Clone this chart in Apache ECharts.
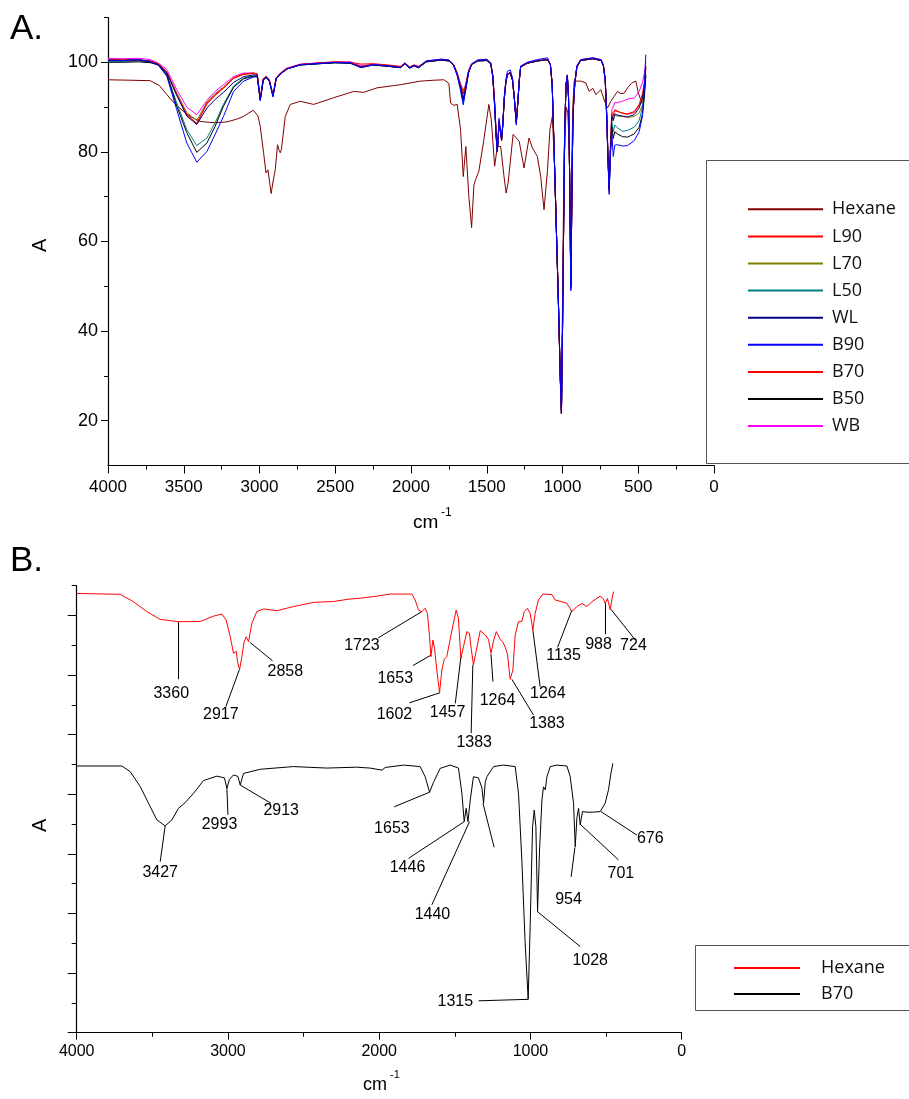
<!DOCTYPE html>
<html><head><meta charset="utf-8">
<script src="https://cdn.jsdelivr.net/npm/echarts@6/dist/echarts.min.js"></script>
<style>html,body{margin:0;padding:0;background:#fff}#c{width:909px;height:1099px}</style>
</head><body><div id="c"></div>
<script>
// ---------- Panel A data ----------
const xTicksA = [4000,3500,3000,2500,2000,1500,1000,500,0];
const yTicksA = [20,40,60,80,100];
const yMinorA = [30,50,70,90,110];
const seriesNamesA = ['Hexane','L90','L70','L50','WL','B90','B70','B50','WB'];

const groupWave = [4000,3900,3800,3720,3667,3612,3546,3480,3414,3347,3293,3238,3171,3105,3039,3015,
2995,2975,2955,2935,2911,2890,2860,2820,2731,2600,2500,2400,2330,2250,2150,2070,2040,2010,1980,1950,1900,1800,1750,1720,1695,1675,
1655,1640,1620,1600,1560,1500,1474,1460,1448,1438,1430,1424,1419,1412,1402,1394,1384,1374,1364,1345,1330,1318,1305,1295,1285,1276,1232,1166,1099,1080,1068,1055,1040,1025,1015,1007,1000,992,985,977,968,960,953,945,938,932,925,918,905,880,800,745,730,718,708,700,692,684,
674,665,655,637,604,571,527,494,472,460,450];

const WB = [100.9,100.8,100.9,100.6,99.8,98.4,93.9,90.0,88.3,91.5,93.5,95.0,96.8,97.6,97.6,97.4,
91.9,96.4,96.9,96.1,92.7,96.6,97.7,98.7,99.6,99.9,100.1,100.1,99.2,99.6,99.3,99.0,99.9,98.9,99.4,99.0,100.3,100.7,100.5,99.6,97.7,95.4,
93.8,95.0,98.2,99.7,100.5,100.6,99.9,97.2,91.2,84.5,81.0,84.0,86.8,85.3,83.0,86.2,92.2,95.7,97.4,97.7,96.2,92.2,86.8,91.2,96.2,99.1,99.9,100.4,100.7,99.6,95.0,80.0,62.0,44.0,30.0,22.0,40.0,65.0,85.0,95.0,97.2,92.0,75.0,50.5,70.0,86.0,92.6,95.7,99.2,100.6,101.0,100.6,99.5,96.5,89.0,80.0,72.0,82.0,
89.5,90.0,91.0,91.0,91.3,91.8,92.0,93.5,95.5,97.5,100.0];

const L90 = [100.6,100.5,100.6,100.3,99.6,97.8,92.8,88.3,86.3,90.9,92.8,94.3,96.5,97.4,97.6,97.4,
91.8,96.3,96.8,96.0,92.6,96.5,97.6,98.6,99.5,99.9,100.1,100.0,99.6,99.7,99.4,99.1,99.8,99.0,99.4,99.1,100.2,100.6,100.4,99.5,97.5,95.0,
93.0,94.6,98.0,99.6,100.4,100.5,99.8,97.0,91.0,84.0,80.5,83.5,86.5,85.0,82.7,86.0,92.0,95.5,97.3,97.6,96.0,92.0,86.6,91.0,96.0,99.0,99.8,100.3,100.6,99.5,95.0,80.0,62.0,44.0,30.0,21.7,40.0,65.0,85.0,95.0,97.0,92.0,75.0,50.0,70.0,86.0,92.4,95.5,99.0,100.4,100.8,100.4,99.2,96.0,88.0,79.0,71.6,80.0,
88.5,88.0,89.4,89.1,88.6,88.4,88.8,90.3,92.5,95.0,98.5];

const L70 = [100.7,100.6,100.6,100.3,99.6,97.9,93.2,88.8,87.0,91.2,93.0,94.5,96.5,97.4,97.6,97.4,
91.8,96.3,96.8,96.0,92.6,96.5,97.6,98.6,99.5,99.8,100.0,99.9,99.0,99.5,99.2,98.9,99.8,98.8,99.3,98.9,100.2,100.6,100.4,99.6,97.7,95.3,
93.5,94.8,98.0,99.6,100.4,100.5,99.8,97.0,91.0,84.0,80.5,83.5,86.5,85.0,82.7,86.0,92.0,95.5,97.3,97.6,96.0,92.0,86.6,91.0,96.0,99.0,99.8,100.3,100.6,99.5,95.0,80.0,62.0,44.0,30.0,21.7,40.0,65.0,85.0,95.0,97.0,92.0,75.0,50.0,70.0,86.0,92.4,95.5,99.0,100.4,100.8,100.4,99.2,96.0,88.0,79.0,71.0,80.0,
88.0,87.0,88.2,88.0,87.9,87.7,87.9,88.7,90.5,93.5,97.5];

const L50 = [100.2,100.2,100.3,100.0,99.4,97.4,90.9,85.0,81.4,83.1,86.5,90.6,94.7,96.5,97.0,96.9,
91.6,96.1,96.6,95.8,92.4,96.3,97.4,98.5,99.4,99.7,99.9,99.8,98.9,99.4,99.1,98.8,99.7,98.7,99.2,98.8,100.1,100.5,100.3,99.4,97.2,94.6,
91.0,93.8,97.7,99.5,100.3,100.4,99.7,96.8,90.5,83.5,80.3,83.5,87.0,85.2,82.8,86.0,92.0,95.5,97.3,97.8,96.0,92.0,86.5,91.0,96.0,99.0,99.8,100.3,100.6,99.5,95.0,80.0,62.0,44.0,30.0,21.7,40.0,65.0,85.0,95.0,97.0,92.0,75.0,50.0,70.0,86.0,92.4,95.5,99.0,100.4,100.8,100.4,99.2,96.0,88.0,79.0,71.6,80.0,
86.5,84.5,86.0,85.4,84.6,84.8,85.5,87.0,90.0,93.0,97.0];

const WL = [100.4,100.4,100.5,100.1,99.5,97.6,92.6,88.0,86.1,89.8,91.7,93.3,95.5,96.8,97.2,97.1,
91.6,96.2,96.7,95.9,92.5,96.4,97.5,98.5,99.4,99.7,99.9,99.8,98.8,99.4,99.1,98.8,99.7,98.7,99.2,98.8,100.1,100.5,100.3,99.4,97.3,94.8,
92.0,94.2,97.8,99.5,100.3,100.4,99.7,96.8,90.5,83.5,80.0,83.2,86.6,85.0,82.5,85.8,91.8,95.4,97.2,97.6,96.0,92.0,86.4,91.0,96.0,99.0,99.8,100.3,100.6,99.5,95.0,80.0,62.0,44.0,30.0,21.5,40.0,65.0,85.0,95.0,97.0,92.0,75.0,49.5,70.0,86.0,92.3,95.5,99.0,100.4,100.8,100.4,99.2,96.0,88.0,79.0,71.6,80.0,
88.0,87.0,88.5,88.2,88.0,87.8,88.3,89.8,92.0,94.5,99.0];

const B90 = [100.5,100.4,100.6,100.2,99.3,96.9,89.4,82.0,77.7,80.1,83.9,87.9,93.5,95.8,96.7,96.8,
91.4,96.0,96.6,95.8,92.3,96.3,97.4,98.5,99.5,99.8,100.0,99.9,98.9,99.5,99.2,98.9,99.8,98.8,99.3,98.9,100.3,100.7,100.5,99.5,97.0,94.0,
90.5,93.5,97.6,99.6,100.5,100.7,99.9,96.8,90.0,83.0,80.0,84.0,87.5,85.5,83.0,86.5,92.5,96.0,98.0,98.3,96.5,92.0,86.0,91.0,96.2,99.2,100.0,100.6,101.0,99.5,95.0,80.0,62.0,44.0,30.0,21.5,40.0,65.0,85.0,95.0,97.2,92.0,75.0,49.0,70.0,86.0,92.3,95.7,99.2,100.6,101.0,100.6,99.3,96.0,87.0,78.0,70.5,79.0,
84.0,79.0,81.5,81.6,81.3,81.4,82.5,84.5,88.0,94.0,101.7];

const B70 = [100.6,100.5,100.5,100.2,99.6,97.8,92.8,88.3,86.4,90.7,92.6,94.2,96.4,97.3,97.5,97.3,
91.8,96.3,96.8,96.0,92.6,96.5,97.6,98.6,99.5,99.8,100.0,99.9,99.1,99.5,99.2,98.9,99.8,98.8,99.3,98.9,100.2,100.6,100.4,99.5,97.5,95.0,
93.0,94.6,98.0,99.6,100.4,100.5,99.8,97.0,91.0,84.0,80.5,83.5,86.5,85.0,82.7,86.0,92.0,95.5,97.3,97.6,96.0,92.0,86.6,91.0,96.0,99.0,99.8,100.3,100.6,99.5,95.0,80.0,62.0,44.0,30.0,21.7,40.0,65.0,85.0,95.0,97.0,92.0,75.0,50.0,70.0,86.0,92.4,95.5,99.0,100.4,100.8,100.4,99.2,96.0,88.0,79.0,71.6,80.0,
88.5,88.2,89.2,89.0,88.7,88.5,89.0,90.6,93.0,95.5,99.0];

const B50 = [100.0,100.0,100.1,99.9,99.4,97.2,90.2,84.3,79.9,82.0,85.7,90.2,94.4,96.3,96.9,96.8,
91.6,96.1,96.6,95.8,92.4,96.3,97.4,98.5,99.4,99.7,99.9,99.8,98.9,99.4,99.1,98.8,99.7,98.7,99.2,98.8,100.1,100.5,100.3,99.4,97.2,94.7,
91.5,94.0,97.8,99.5,100.3,100.4,99.7,96.8,90.5,83.5,80.3,83.4,86.7,85.1,82.7,86.0,92.0,95.5,97.3,97.7,96.0,92.0,86.5,91.0,96.0,99.0,99.8,100.3,100.6,99.5,95.0,80.0,62.0,44.0,30.0,21.7,40.0,65.0,85.0,95.0,97.0,92.0,75.0,50.0,70.0,86.0,92.4,95.5,99.0,100.4,100.8,100.4,99.2,96.0,88.0,79.0,71.6,80.0,
85.5,83.0,84.5,84.0,83.4,83.3,84.0,85.5,88.5,92.0,97.0];

const hexaneWaveA = [4000,3850,3722,3660,3612,3560,3504,3450,3392,3300,3215,3150,3107,3041,3010,2995,2973,2957,2944,2923,2910,2896,2881,2870,2863,2855,2845,2830,2797,2731,2643,2510,2378,2312,2224,2114,2069,1937,1850,1783,1750,1739,1717,1695,1673,1655,1638,1618,1600,1585,1574,1552,1519,1486,1470,1448,1430,1408,1386,1372,1359,1326,1286,1254,1221,1199,1166,1144,1122,1099,1083,1067,1050,1030,1010,1000,990,975,965,955,947,940,932,923,880,846,824,800,780,747,725,703,681,659,637,615,593,571,542,516,500,483,472,460,450];
const hexaneA = [96.1,96.0,95.9,94.8,92.8,90.8,89.1,87.8,86.8,86.5,86.7,87.3,87.9,89.3,88.0,85.7,79.8,75.3,76.0,70.7,73.5,76.0,81.6,80.3,79.8,80.6,80.5,87.9,90.6,91.3,90.6,92.1,93.5,93.3,94.3,94.8,95.0,95.8,96.0,96.1,95.3,90.9,90.4,90.6,85.0,74.5,81.2,70.0,63.1,72.5,73.8,75.7,82.7,90.6,87.2,76.8,81.2,81.2,74.5,70.8,73.1,83.9,82.4,76.4,83.1,80.9,79.0,74.5,67.1,76.0,85.0,87.9,75.0,50.0,23.0,45.0,80.0,90.0,88.7,80.0,55.0,75.0,90.0,95.8,95.8,95.4,93.5,94.2,92.8,93.9,91.6,89.8,91.3,92.4,93.5,93.0,93.1,94.3,95.4,95.8,93.2,91.6,90.6,94.6,96.1];

// ---------- Panel B data ----------
const xTicksB = [4000,3000,2000,1000,0];
const hexaneWaveB = [4000,3712,3624,3536,3448,3327,3183,3095,3040,3012,2985,2963,2952,2945,2937,2923,2908,2893,2879,2864,2853,2842,2809,2765,2676,2567,2434,2302,2200,2126,2015,1927,1784,1762,1740,1718,1696,1681,1667,1658,1645,1634,1619,1601,1586,1570,1553,1519,1491,1476,1460,1443,1420,1403,1392,1377,1359,1332,1299,1277,1261,1244,1226,1200,1182,1167,1152,1134,1116,1101,1079,1057,1041,1020,1002,984,969,947,918,858,836,792,759,726,693,660,627,594,539,520,506,491,473,462,451];
const hexaneB = [14.74,14.71,14.46,14.13,13.87,13.79,13.80,13.98,14.05,13.85,13.29,12.73,12.67,12.80,12.45,12.19,12.62,13.12,13.29,13.12,13.15,13.74,14.13,14.22,14.16,14.30,14.44,14.47,14.55,14.58,14.65,14.72,14.72,14.52,14.18,14.13,14.24,14.07,13.29,12.62,13.18,12.90,12.17,11.41,12.17,12.53,12.62,13.51,14.18,13.90,12.56,12.95,13.46,13.40,12.90,12.34,12.80,13.49,13.35,13.20,12.73,13.15,13.46,13.20,13.10,12.94,12.70,11.86,12.17,13.35,13.79,13.80,14.13,14.24,14.07,13.51,14.07,14.52,14.72,14.70,14.52,14.46,14.41,14.13,14.30,14.40,14.30,14.46,14.65,14.57,14.41,14.57,14.20,14.52,14.80];
const b70WaveB = [4000,3702,3646,3580,3525,3470,3415,3371,3327,3283,3228,3162,3073,3023,3007,2990,2963,2934,2919,2897,2787,2567,2346,2150,2060,1982,1960,1839,1729,1696,1667,1641,1597,1531,1476,1453,1438,1425,1413,1398,1377,1344,1321,1310,1299,1288,1244,1178,1101,1079,1057,1035,1015,1002,986,975,964,953,940,924,914,902,891,869,825,759,737,715,704,693,682,671,656,627,583,539,506,484,468,455];
const b70B = [8.95,8.95,8.76,8.26,7.70,7.14,6.94,7.14,7.53,7.72,8.03,8.46,8.61,8.55,8.20,8.50,8.65,8.60,8.31,8.70,8.84,8.93,8.88,8.91,8.88,8.81,8.90,8.98,8.93,8.59,8.07,8.40,8.87,8.98,8.88,8.03,7.08,7.53,7.08,7.81,8.59,8.55,8.22,7.70,8.40,8.59,8.93,8.98,8.93,8.03,5.80,3.00,1.12,3.56,6.91,7.47,6.91,4.06,6.13,7.81,8.25,8.15,8.59,8.93,8.98,8.95,8.59,7.70,6.24,7.20,7.53,6.97,7.42,7.40,7.40,7.42,7.70,8.15,8.70,9.04];

// annotation labels: [wavenumber, level, text]
const labelsB = [
  [3375,11.37,'3360'],[3047,10.69,'2917'],[2621,12.11,'2858'],[2114,12.98,'1723'],
  [1894,11.89,'1653'],[1899,10.66,'1602'],[1548,10.74,'1457'],[1372,9.74,'1383'],
  [1218,11.16,'1264'],[891,10.38,'1383'],[885,11.37,'1264'],[781,12.67,'1135'],
  [550,13.01,'988'],[319,12.98,'724'],
  [3448,5.37,'3427'],[3056,6.99,'2993'],[2648,7.45,'2913'],[1916,6.86,'1653'],
  [1813,5.54,'1446'],[1648,3.95,'1440'],[1497,1.04,'1315'],[605,2.41,'1028'],
  [748,4.48,'954'],[402,5.35,'701'],[208,6.52,'676']
];
// leader lines: [w1, level1, w2, level2]
const leadersB = [
  [3327,13.79,3327,11.86],[2924,12.19,3014,10.94],[2853,13.09,2705,12.48],[1718,14.13,2007,13.25],
  [1658,12.67,1777,12.32],[1597,11.41,1800,11.07],[1460,12.60,1497,11.05],[1381,12.34,1392,10.05],
  [1261,12.71,1248,11.78],[1123,11.86,980,10.66],[984,13.51,936,11.61],[726,14.18,821,12.93],
  [504,14.41,504,13.37],[468,14.21,307,13.18],
  [3415,6.94,3448,5.74],[3007,8.20,3000,7.31],[2919,8.31,2716,7.70],[1667,8.07,1901,7.58],
  [1438,7.08,1806,5.85],[1403,7.08,1652,4.29],[1314,7.70,1240,6.22],[1343,1.07,1015,1.12],
  [953,4.06,671,2.89],[706,6.22,731,5.23],[666,6.97,418,5.80],[534,7.42,296,6.63]
];
const yMajorB = [0,2,4,6,8,10,12,14];
const yMinorB = [1,3,5,7,9,11,13,15];

// ---------- build ----------
const zip = (w, v) => w.map((x, i) => [x, v[i]]);
const colors = {Hexane:'#800000',L90:'#ff0000',L70:'#808000',L50:'#008080',WL:'#000080',B90:'#0000ff',B70:'#ff0000',B50:'#000000',WB:'#ff00ff'};
const dataA = {L90, L70, L50, WL, B90, B70, B50, WB};
const FONT = 'Liberation Sans';
const plain = v => String(v);

const lineSeries = (name, data, xi, yi, color) => ({
  type:'line', name, data, xAxisIndex:xi, yAxisIndex:yi, showSymbol:false, symbol:'none',
  lineStyle:{width:1, color}, itemStyle:{color}, silent:true, animation:false
});

const series = [lineSeries('Hexane', zip(hexaneWaveA, hexaneA), 0, 0, colors.Hexane)];
['WB','L70','L50','B50','L90','B70','WL','B90'].forEach(n => series.push(lineSeries(n, zip(groupWave, dataA[n]), 0, 0, colors[n])));
series.push(lineSeries('Hexane (B)', zip(hexaneWaveB, hexaneB), 1, 1, '#ff0000'));
series.push(lineSeries('B70 (B)', zip(b70WaveB, b70B), 1, 1, '#000000'));
series.push({
  type:'lines', coordinateSystem:'cartesian2d', xAxisIndex:1, yAxisIndex:1, polyline:false, silent:true,
  lineStyle:{color:'#000', width:1, opacity:1}, symbol:['none','none'], animation:false,
  data: leadersB.map(l => ({coords:[[l[0],l[1]],[l[2],l[3]]]}))
});
series.push({
  type:'scatter', xAxisIndex:1, yAxisIndex:1, symbolSize:0, itemStyle:{color:'#000'}, silent:true, animation:false,
  label:{show:true, position:'inside', formatter:p => p.data.name, fontFamily:FONT, fontSize:16, color:'#000', opacity:1},
  data: labelsB.map(l => ({value:[l[0],l[1]], name:l[2]}))
});

const axLine = {show:true, onZero:false, lineStyle:{color:'#000', width:1.2}};
const noLine = {show:false, onZero:false};
const gridA = {left:108, top:17.5, width:606, height:448, outerBoundsMode:'none'};
const gridB = {left:76.7, top:585.7, width:605, height:447, outerBoundsMode:'none'};
const hiddenX = gi => ({gridIndex:gi, type:'value', inverse:true, min:0, max:4000, show:false, axisLine:noLine});
const option = {
  animation:false,
  backgroundColor:'#fff',
  grid:[gridA, gridB, Object.assign({}, gridA), Object.assign({}, gridB)],
  xAxis:[
    {gridIndex:0, type:'value', position:'bottom', inverse:true, min:0, max:4000, interval:500,
     axisLine:axLine, splitLine:{show:false},
     axisTick:{show:true, length:8, lineStyle:{color:'#000'}},
     minorTick:{show:true, splitNumber:2, length:4, lineStyle:{color:'#000'}},
     axisLabel:{margin:13, fontFamily:FONT, fontSize:17, color:'#000', formatter:plain, customValues:xTicksA}},
    {gridIndex:1, type:'value', position:'bottom', inverse:true, min:0, max:4000, interval:1000,
     axisLine:axLine, splitLine:{show:false},
     axisTick:{show:true, length:7, lineStyle:{color:'#000'}},
     minorTick:{show:true, splitNumber:2, length:4, lineStyle:{color:'#000'}},
     axisLabel:{margin:11, fontFamily:FONT, fontSize:16, color:'#000', formatter:plain, customValues:xTicksB}},
    hiddenX(2), hiddenX(3)
  ],
  yAxis:[
    {gridIndex:0, type:'value', position:'left', min:10, max:110, axisLine:axLine, splitLine:{show:false},
     axisTick:{show:true, length:7, customValues:yTicksA, lineStyle:{color:'#000'}},
     axisLabel:{margin:10, fontFamily:FONT, fontSize:18, color:'#000', formatter:plain, customValues:yTicksA}},
    {gridIndex:1, type:'value', position:'left', min:0, max:15, axisLine:axLine, splitLine:{show:false},
     axisTick:{show:true, length:9, customValues:yMajorB, lineStyle:{color:'#000'}},
     axisLabel:{show:false}},
    {gridIndex:2, type:'value', position:'left', min:10, max:110, axisLine:noLine, splitLine:{show:false},
     axisTick:{show:true, length:4, customValues:yMinorA, lineStyle:{color:'#000'}},
     axisLabel:{show:false}},
    {gridIndex:3, type:'value', position:'left', min:0, max:15, axisLine:noLine, splitLine:{show:false},
     axisTick:{show:true, length:5, customValues:yMinorB, lineStyle:{color:'#000'}},
     axisLabel:{show:false}}
  ],
  legend:[
    {data:seriesNamesA, orient:'vertical', left:748, top:199.3, itemWidth:75, itemHeight:2, itemGap:7.1,
     icon:'rect', selectedMode:false, padding:0,
     textStyle:{fontFamily:'Open Sans', fontSize:18, lineHeight:20, color:'#111', padding:[0,0,0,4]}},
    {data:['Hexane (B)','B70 (B)'], orient:'vertical', left:734, top:958, itemWidth:66, itemHeight:2, itemGap:6,
     icon:'rect', selectedMode:false, padding:0, formatter:n => n.replace(' (B)',''),
     textStyle:{fontFamily:'Open Sans', fontSize:18, lineHeight:20, color:'#111', padding:[0,0,0,16]}}
  ],
  graphic:[
    {type:'rect', shape:{x:706.5, y:160.5, width:260, height:303}, style:{fill:'none', stroke:'#555', lineWidth:1}, silent:true},
    {type:'rect', shape:{x:695.5, y:945.5, width:260, height:65}, style:{fill:'none', stroke:'#555', lineWidth:1}, silent:true},
    {type:'text', left:10, top:12, style:{text:'A.', font:'35px "Liberation Sans"', fill:'#000'}},
    {type:'text', left:10, top:544, style:{text:'B.', font:'35px "Liberation Sans"', fill:'#000'}},
    {type:'text', x:30, y:252, rotation:Math.PI/2, style:{text:'A', font:'20px "Liberation Sans"', fill:'#000'}},
    {type:'text', x:30, y:832, rotation:Math.PI/2, style:{text:'A', font:'20px "Liberation Sans"', fill:'#000'}},
    {type:'text', left:413, top:513, style:{text:'cm', font:'19px "Liberation Sans"', fill:'#000'}},
    {type:'text', left:441, top:507, style:{text:'-1', font:'12px "Liberation Sans"', fill:'#000'}},
    {type:'text', left:363, top:1076, style:{text:'cm', font:'18px "Liberation Sans"', fill:'#000'}},
    {type:'text', left:390, top:1069, style:{text:'-1', font:'11px "Liberation Sans"', fill:'#000'}}
  ],
  series
};
const chart = echarts.init(document.getElementById('c'), null, {renderer:'canvas'});
chart.setOption(option);
</script>
</body></html>
